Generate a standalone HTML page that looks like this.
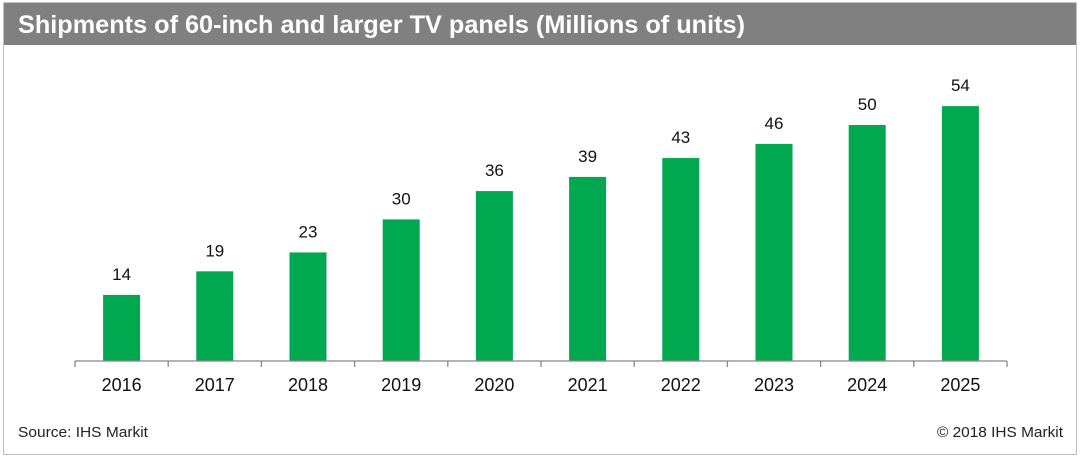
<!DOCTYPE html>
<html><head><meta charset="utf-8"><style>
body{margin:0;background:#fff;font-family:"Liberation Sans",Arial,sans-serif;}
</style></head><body>
<svg width="1080" height="458" viewBox="0 0 1080 458">
<rect x="3.5" y="2.5" width="1073" height="452" fill="#fff" stroke="#c0c0c0"/>
<rect x="4" y="3" width="1072" height="42" fill="#7f807f"/>
<text x="18" y="33" fill="#fff" font-size="25" font-weight="bold" textLength="727" lengthAdjust="spacingAndGlyphs">Shipments of 60-inch and larger TV panels (Millions of units)</text>
<g id="plot"></g>
<text x="18" y="437" font-size="15" fill="#222" textLength="130" lengthAdjust="spacingAndGlyphs">Source: IHS Markit</text>
<text x="1063" y="437" font-size="15" fill="#222" text-anchor="end" textLength="126" lengthAdjust="spacingAndGlyphs">© 2018 IHS Markit</text>
</svg>
<script>
const categories=["2016","2017","2018","2019","2020","2021","2022","2023","2024","2025"];
const values=[14,19,23,30,36,39,43,46,50,54];
const valueLabels=["14","19","23","30","36","39","43","46","50","54"];
const NS="http://www.w3.org/2000/svg";
const g=document.getElementById('plot');
const x0=75,x1=1007,yBase=361,scale=4.72;
const bw=(x1-x0)/categories.length;
const xs=i=>x0+bw*i;
const ys=v=>yBase-v*scale;
function mk(t,a){const e=document.createElementNS(NS,t);for(const k in a)e.setAttribute(k,a[k]);g.appendChild(e);return e;}
categories.forEach((c,i)=>{
  const cx=xs(i)+bw/2;
  const r=mk('rect',{x:cx-18.5,y:ys(values[i]),width:37,height:values[i]*scale,fill:'#00a94f'});
  
  
  const t=mk('text',{x:cx,y:ys(values[i])-15,'font-size':17,'text-anchor':'middle',fill:'#111'});
  t.textContent=valueLabels[i];
  
  
  const xl=mk('text',{x:cx,y:391,'font-size':18,'text-anchor':'middle',fill:'#111'});
  xl.textContent=c;
  
  
});
for(let i=0;i<=categories.length;i++){
  const tk=mk('line',{x1:xs(i),x2:xs(i),y1:yBase,y2:yBase+6,stroke:'#888','stroke-width':1.3});
  
  
}
const ax=mk('line',{x1:x0,x2:x1,y1:yBase,y2:yBase,stroke:'#888','stroke-width':1.3});


</script>
</body></html>
